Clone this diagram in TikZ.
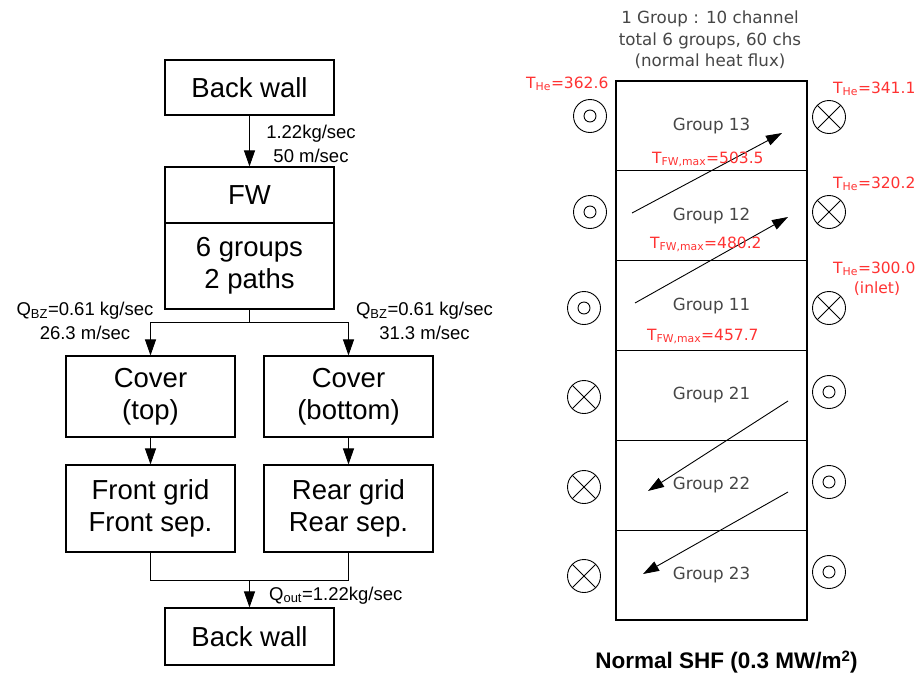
\documentclass[tikz,border=0pt]{standalone}
\usepackage{fontspec}
\setmainfont{Liberation Sans}
\newfontfamily\dejavu{DejaVu Sans}
\usetikzlibrary{arrows.meta}
\definecolor{heatred}{RGB}{255,50,50}
\definecolor{labelgray}{RGB}{70,70,70}
\begin{document}
\begin{tikzpicture}[x=1pt,y=-1pt,
  flowbox/.style={draw, line width=1.1pt, minimum width=169pt, inner sep=0pt,
    align=center, font=\fontsize{27.5}{32}\selectfont},
  flowlbl/.style={align=center, inner sep=0pt, font=\fontsize{18.5}{24}\selectfont},
  wire/.style={line width=0.9pt},
  arr/.style={wire, -{Triangle[length=16pt,width=11pt]}},
  grp/.style={draw, line width=1.1pt, minimum width=191pt, minimum height=89.83pt,
    inner sep=0pt, text=labelgray, font=\dejavu\fontsize{16.7}{20}\selectfont},
  hdr/.style={align=center, inner sep=0pt, text=labelgray,
    font=\dejavu\fontsize{16.7}{21.5}\selectfont},
  temp/.style={inner sep=0pt, text=heatred, font=\dejavu\fontsize{15.5}{19}\selectfont},
  ring/.style={circle, draw, line width=0.9pt, minimum size=33pt, inner sep=0pt,
    path picture={\draw[line width=0.9pt] (path picture bounding box.center) circle[radius=6pt];}},
  crossring/.style={circle, draw, line width=0.9pt, minimum size=33pt, inner sep=0pt,
    path picture={\draw[line width=0.9pt]
      (path picture bounding box.north west) -- (path picture bounding box.south east)
      (path picture bounding box.north east) -- (path picture bounding box.south west);}},
  slant/.style={line width=0.9pt, -{Triangle[length=16pt,width=10.5pt]}}
]
\useasboundingbox (0,0) rectangle (923,675);

% ---------- coolant flow chart ----------
\node[flowbox, minimum height=55pt] (bwtop) at (249.5,87.5) {Back wall};
\node[flowbox, minimum height=56pt] (fw) at (249.5,195) {FW};
\node[flowbox, minimum height=86pt] (paths) at (249.5,266) {6 groups\\2 paths};
\node[flowbox, minimum height=81pt] (covtop) at (150.5,396.5) {Cover\\(top)};
\node[flowbox, minimum height=81pt] (covbot) at (348.5,396.5) {Cover\\(bottom)};
\node[flowbox, minimum height=87pt] (frontg) at (150.5,508.5) {Front grid\\Front sep.};
\node[flowbox, minimum height=87pt] (rearg) at (348.5,508.5) {Rear grid\\Rear sep.};
\node[flowbox, minimum height=57pt] (bwbot) at (249.5,636.5) {Back wall};

\draw[arr] (bwtop) -- (fw);

\coordinate (split) at (249.5,322);
\draw[wire] (paths) -- (split);
\draw[wire] (split -| covtop) -- (split -| covbot);
\draw[arr] (split -| covtop) -- (covtop);
\draw[arr] (split -| covbot) -- (covbot);

\draw[arr] (covtop) -- (frontg);
\draw[arr] (covbot) -- (rearg);

\coordinate (merge) at (249.5,580);
\draw[wire] (frontg) |- (merge) -| (rearg);
\draw[arr] (merge) -- (bwbot);

\node[flowlbl] at (311,144) {1.22kg/sec\\50 m/sec};
\node[flowlbl] at (85,321) {Q\textsubscript{BZ}=0.61 kg/sec\\26.3 m/sec};
\node[flowlbl] at (424.5,321) {Q\textsubscript{BZ}=0.61 kg/sec\\31.3 m/sec};
\node[flowlbl, anchor=base west] at (269,600) {Q\textsubscript{out}=1.22kg/sec};

% ---------- channel groups ----------
\node[hdr] (hdr) at (710,40) {1 Group : 10 channel\\total 6 groups, 60 chs\\(normal heat flux)};

\node[grp] (g13) at (711.5,125.9) {Group 13};
\node[grp] (g12) at (711.5,215.7) {Group 12};
\node[grp] (g11) at (711.5,305.6) {Group 11};
\node[grp] (g21) at (711.5,395.4) {Group 21};
\node[grp] (g22) at (711.5,485.2) {Group 22};
\node[grp] (g23) at (711.5,575.1) {Group 23};

% flow direction markers
\node[ring] (l13) at (590,116) {};
\node[ring] (l12) at (590,212) {};
\node[ring] (l11) at (584,308) {};
\node[crossring] (l21) at (584,397) {};
\node[crossring] (l22) at (584,487) {};
\node[crossring] (l23) at (584,576) {};
\node[crossring] (r13) at (829,117) {};
\node[crossring] (r12) at (829,212) {};
\node[crossring] (r11) at (829,308) {};
\node[ring] (r21) at (829,392) {};
\node[ring] (r22) at (829,482) {};
\node[ring] (r23) at (829,572) {};

% coolant path across the groups
\coordinate (p1s) at (632,213); \coordinate (p1e) at (782,133);
\coordinate (p2s) at (635,303); \coordinate (p2e) at (788,217);
\coordinate (p3s) at (788,401); \coordinate (p3e) at (648,491);
\coordinate (p4s) at (788,492); \coordinate (p4e) at (643,574);
\draw[slant] (p1s) -- (p1e);
\draw[slant] (p2s) -- (p2e);
\draw[slant] (p3s) -- (p3e);
\draw[slant] (p4s) -- (p4e);

% temperatures
\node[temp, anchor=base west] at (526,88) {T\textsubscript{He}=362.6};
\node[temp, anchor=base west] at (833,93) {T\textsubscript{He}=341.1};
\node[temp, anchor=base west] at (833,188) {T\textsubscript{He}=320.2};
\node[temp, anchor=base west] at (833,273) {T\textsubscript{He}=300.0};
\node[temp, anchor=base] at (877,293) {(inlet)};
\node[temp, anchor=base west] at (652,163) {T\textsubscript{FW,max}=503.5};
\node[temp, anchor=base west] at (650,248) {T\textsubscript{FW,max}=480.2};
\node[temp, anchor=base west] at (647,340) {T\textsubscript{FW,max}=457.7};

\node[anchor=base, inner sep=0pt, font=\bfseries\fontsize{22.5}{27}\selectfont]
  (title) at (726.5,668) {Normal SHF (0.3 MW/m{\fontsize{15}{15}\selectfont\raisebox{7pt}{2}})};
\end{tikzpicture}
\end{document}
